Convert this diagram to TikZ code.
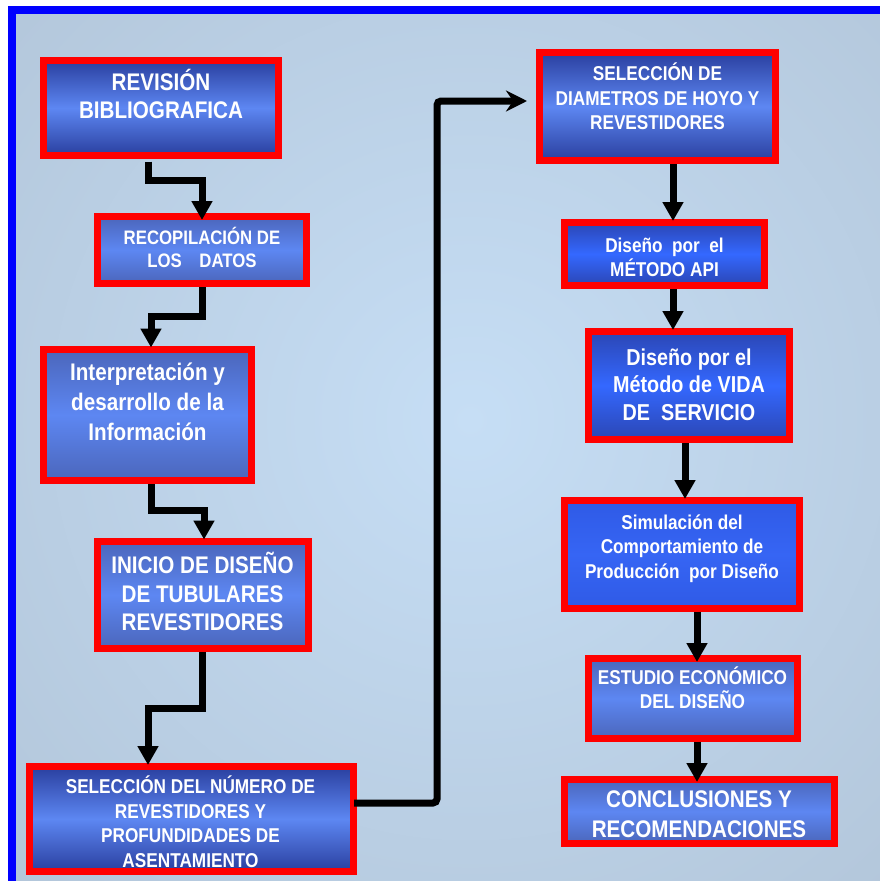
\documentclass[tikz,border=0pt]{standalone}
\usepackage{fontspec}
\setmainfont{Liberation Sans}[FakeStretch=0.86]
\usetikzlibrary{arrows.meta}

\definecolor{framebl}{HTML}{0000FF}
\definecolor{bgdark}{HTML}{ADBFD2}
\definecolor{bglight}{HTML}{C6DEF5}
\definecolor{boxred}{HTML}{FF0000}
\definecolor{navyA}{HTML}{2A3F9F}
\definecolor{skyA}{HTML}{5D87F2}
\definecolor{slateA}{HTML}{4B66BB}
\definecolor{royalA}{HTML}{2B46B4}
\definecolor{royalB}{HTML}{3468FF}
\definecolor{flatA}{HTML}{2F5AE6}
\definecolor{flatB}{HTML}{3665F4}

\newcommand\fsz[2]{\fontsize{#1}{#2}\selectfont\bfseries}

\tikzset{
  box/.style={rectangle, draw=boxred, line width=7pt, inner sep=0pt},
  boxdeep/.style={box, top color=navyA, bottom color=navyA, middle color=skyA},
  boxsoft/.style={box, top color=slateA, bottom color=slateA, middle color=skyA},
  boxvivid/.style={box, top color=royalA, bottom color=royalA, middle color=royalB},
  boxflat/.style={box, top color=flatA, bottom color=flatA, middle color=flatB},
  boxtext/.style={text=white, align=center, inner sep=0pt},
  flow/.style={line width=7pt, draw=black, -{Triangle[width=20pt,length=19pt]}},
  longflow/.style={line width=7pt, draw=black, rounded corners=4pt,
                   -{Stealth[width=21pt,length=21pt,inset=7pt]}}
}

\begin{document}
\begin{tikzpicture}[x=1pt,y=-1pt]
  \useasboundingbox (0,0) rectangle (880,881);

  % page, frame and glowing backdrop
  \fill[white] (0,0) rectangle (880,881);
  \fill[framebl] (8,6) rectangle (880,881);
  \begin{scope}
    \clip (16,14) rectangle (880,881);
    \shade[inner color=bglight, outer color=bgdark] (470,420) circle (840);
  \end{scope}

  % left column
  \node[boxdeep, minimum width=235pt, minimum height=95pt]  (b1) at (161,108) {};
  \node[boxsoft, minimum width=209pt, minimum height=67pt]  (b2) at (202,250) {};
  \node[boxsoft, minimum width=208pt, minimum height=131pt] (b3) at (147.5,415) {};
  \node[boxsoft, minimum width=211pt, minimum height=107pt] (b4) at (203,595) {};
  \node[boxdeep, minimum width=324pt, minimum height=105pt] (b5) at (191.5,819) {};

  % right column
  \node[boxdeep,  minimum width=236pt, minimum height=108pt] (b6)  at (657.5,106.5) {};
  \node[boxvivid, minimum width=200pt, minimum height=63pt]  (b7)  at (664.5,254) {};
  \node[boxvivid, minimum width=201pt, minimum height=108pt] (b8)  at (689,385.5) {};
  \node[boxflat,  minimum width=235pt, minimum height=108pt] (b9)  at (682,554.5) {};
  \node[boxsoft,  minimum width=209pt, minimum height=80pt]  (b10) at (693,698.5) {};
  \node[boxsoft,  minimum width=270pt, minimum height=64pt]  (b11) at (699.5,811.5) {};

  % captions
  \node[boxtext, font=\fsz{24}{28}]     (t1)  at (161,94)    {REVISIÓN\\BIBLIOGRAFICA};
  \node[boxtext, font=\fsz{19.5}{23}]   (t2)  at (202,247.5) {RECOPILACIÓN DE\\LOS\hspace{0.9em}DATOS};
  \node[boxtext, font=\fsz{24}{30}]     (t3)  at (147.5,402) {Interpretación y\\desarrollo de la\\Información};
  \node[boxtext, font=\fsz{24}{28.5}]   (t4)  at (202.5,591.5) {INICIO DE DISEÑO\\DE TUBULARES\\REVESTIDORES};
  \node[boxtext, font=\fsz{20}{24.5}]   (t5)  at (190.5,821.5) {SELECCIÓN DEL NÚMERO DE\\REVESTIDORES Y\\PROFUNDIDADES DE\\ASENTAMIENTO};
  \node[boxtext, font=\fsz{20}{24.5}]   (t6)  at (657.5,96.5) {SELECCIÓN DE\\DIAMETROS DE HOYO Y\\REVESTIDORES};
  \node[boxtext, font=\fsz{20}{24}]     (t7)  at (664.5,257) {Diseño\ \ por\ \ el\\MÉTODO API};
  \node[boxtext, font=\fsz{23}{27.5}]   (t8)  at (689,384.5) {Diseño por el\\Método de VIDA\\DE\ \ SERVICIO};
  \node[boxtext, font=\fsz{20}{24.5}]   (t9)  at (682,548.5) {Simulación del\\Comportamiento de\\Producción\ \ por Diseño};
  \node[boxtext, font=\fsz{20}{24}]     (t10) at (692.5,688) {ESTUDIO ECONÓMICO\\DEL DISEÑO};
  \node[boxtext, font=\fsz{24}{30}]     (t11) at (699,814)   {CONCLUSIONES Y\\RECOMENDACIONES};

  % connectors, left column
  \draw[flow] ([xshift=-13pt,yshift=-2.5pt]b1.south) -- ++(0,18.5) -| ([yshift=-7pt]b2.north);
  \draw[flow] (b2.south) -- ++(0,29.5) -| ([xshift=3.5pt,yshift=-1.5pt]b3.north);
  \draw[flow] ([xshift=3.5pt]b3.south) -- ++(0,26) -| ([xshift=1pt,yshift=-1.5pt]b4.north);
  \draw[flow] ([xshift=-1pt]b4.south) -- ++(0,56) -| ([xshift=-43.5pt,yshift=-2pt]b5.north);

  % link across to the right column
  \draw[longflow] ([xshift=-3pt,yshift=16pt]b5.east) -- ++(83,0) |- ([xshift=-9pt,yshift=5.5pt]b6.west);

  % connectors, right column
  \draw[flow] ([xshift=15.5pt]b6.south) -- ([xshift=8.5pt,yshift=-2pt]b7.north);
  \draw[flow] ([xshift=8.5pt]b7.south)  -- ([xshift=-16pt,yshift=-2pt]b8.north);
  \draw[flow] ([xshift=-4pt]b8.south)   -- ([xshift=3pt,yshift=-2pt]b9.north);
  \draw[flow] ([xshift=15pt]b9.south)   -- ([xshift=4pt,yshift=-7pt]b10.north);
  \draw[flow] ([xshift=4pt]b10.south)   -- ([xshift=-2.5pt,yshift=-6pt]b11.north);
\end{tikzpicture}
\end{document}
